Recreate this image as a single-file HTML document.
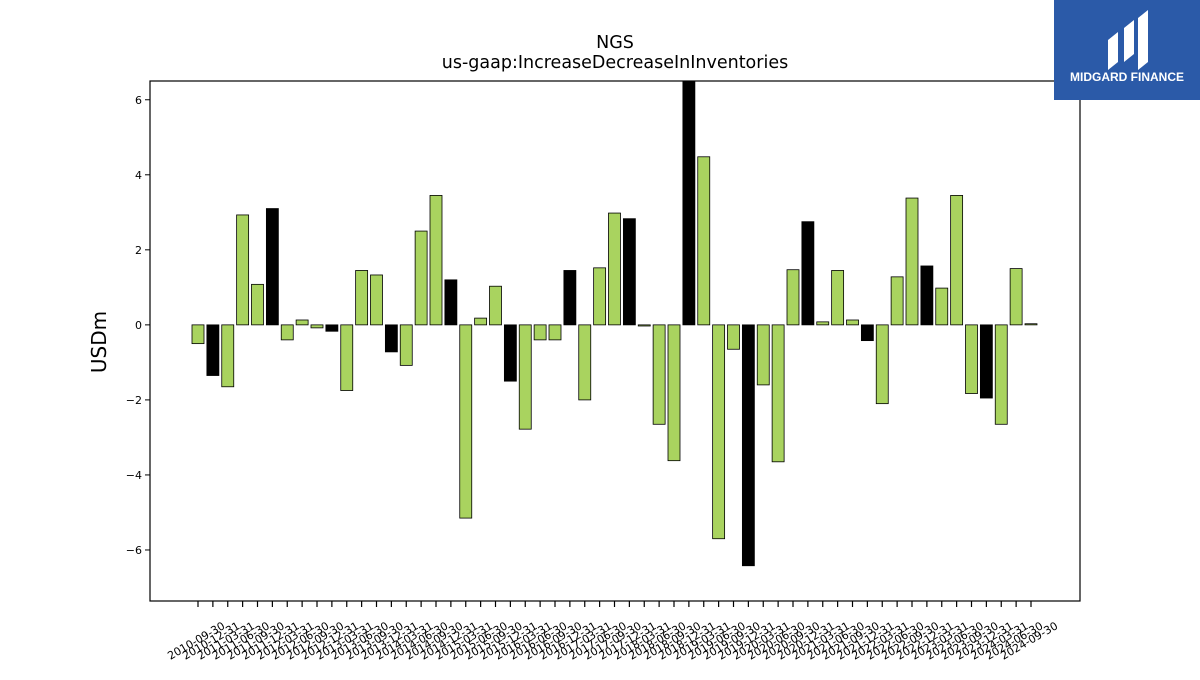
<!DOCTYPE html>
<html><head><meta charset="utf-8"><style>
body{margin:0;background:#fff;width:1200px;height:675px;overflow:hidden;font-family:"Liberation Sans","DejaVu Sans",sans-serif}
</style></head><body>
<svg id="chart" width="1200" height="675" xmlns="http://www.w3.org/2000/svg">
<text x="615" y="48" text-anchor="middle" font-size="17.5" font-family="DejaVu Sans, sans-serif">NGS</text>
<text x="615" y="68" text-anchor="middle" font-size="17.5" font-family="DejaVu Sans, sans-serif">us-gaap:IncreaseDecreaseInInventories</text>
<text transform="translate(106,342) rotate(-90)" text-anchor="middle" font-size="20" font-family="DejaVu Sans, sans-serif">USDm</text>
<g id="bars"></g><g id="xt"></g><g id="yt"></g>
<rect x="150" y="81" width="930" height="520" fill="none" stroke="#000" stroke-width="1.2"/>
<g>
<rect x="1054" y="0" width="146" height="100" fill="#2b5aa8"/>
<path d="M1108 70 L1108 40 L1118 32 L1118 62 Z M1124 62 L1124 28 L1134 20 L1134 54 Z M1138 70 L1138 18 L1148 10 L1148 62 Z" fill="#fff"/>
<text x="1127" y="81" text-anchor="middle" font-size="12" font-weight="bold" fill="#fff">MIDGARD FINANCE</text>
</g>
</svg>
<script>
const categories=[];
(function(){const q=["03-31","06-30","09-30","12-31"];let y=2010,i=2;while(true){categories.push(y+"-"+q[i]);if(y===2024&&i===2)break;i++;if(i>3){i=0;y++;}}})();
const values=[-0.5,-1.35,-1.65,2.93,1.08,3.1,-0.4,0.13,-0.08,-0.17,-1.75,1.45,1.33,-0.72,-1.08,2.5,3.45,1.2,-5.15,0.18,1.03,-1.5,-2.78,-0.4,-0.4,1.45,-2.0,1.52,2.98,2.83,-0.03,-2.65,-3.62,6.8,4.48,-5.7,-0.65,-6.42,-1.6,-3.65,1.47,2.75,0.08,1.45,0.13,-0.42,-2.1,1.28,3.38,1.57,0.98,3.45,-1.83,-1.95,-2.65,1.5,0.03];
const yTicks=[-6,-4,-2,0,2,4,6];
const NS="http://www.w3.org/2000/svg";
const L=150,R=1080,T=81,B=601,ymin=-7.36,ymax=6.5;
const n=categories.length;
const x0=198,x1=1031;
function xs(i){return x0+(x1-x0)*i/(n-1);}
function ys(v){return T+(ymax-v)/(ymax-ymin)*(B-T);}
function mk(t,a){const e=document.createElementNS(NS,t);for(const k in a)e.setAttribute(k,a[k]);return e;}
const bars=document.getElementById('bars'),xt=document.getElementById('xt'),yt=document.getElementById('yt');
const bw=12;
values.forEach((v,i)=>{
 const top=Math.max(T,ys(Math.max(v,0))),bot=Math.min(B,ys(Math.min(v,0)));
 const r=mk('rect',{x:xs(i)-bw/2,y:top,width:bw,height:Math.max(0.5,bot-top),fill:(i%4===1)?'#000':'#a9d35f',stroke:'#000','stroke-width':0.8});
 
 
 bars.appendChild(r);
});
categories.forEach((c,i)=>{
 const x=xs(i);
 const tk=mk('line',{x1:x,x2:x,y1:B,y2:B+6,stroke:'#000','stroke-width':1.2});
 
 
 xt.appendChild(tk);
 const t=mk('text',{transform:`translate(${x},${B+43}) rotate(-30)`,'text-anchor':'middle','font-size':11,'font-family':'DejaVu Sans, sans-serif'});
 t.textContent=c;
 
 
 xt.appendChild(t);
});
yTicks.forEach(v=>{
 const y=ys(v);
 const tk=mk('line',{x1:L-5,x2:L,y1:y,y2:y,stroke:'#000'});
 
 
 yt.appendChild(tk);
 const t=mk('text',{x:L-8,y:y+4,'text-anchor':'end','font-size':11,'font-family':'DejaVu Sans, sans-serif'});
 t.textContent=(v<0?'\u2212':'')+Math.abs(v);
 
 
 yt.appendChild(t);
});
</script>
</body></html>
